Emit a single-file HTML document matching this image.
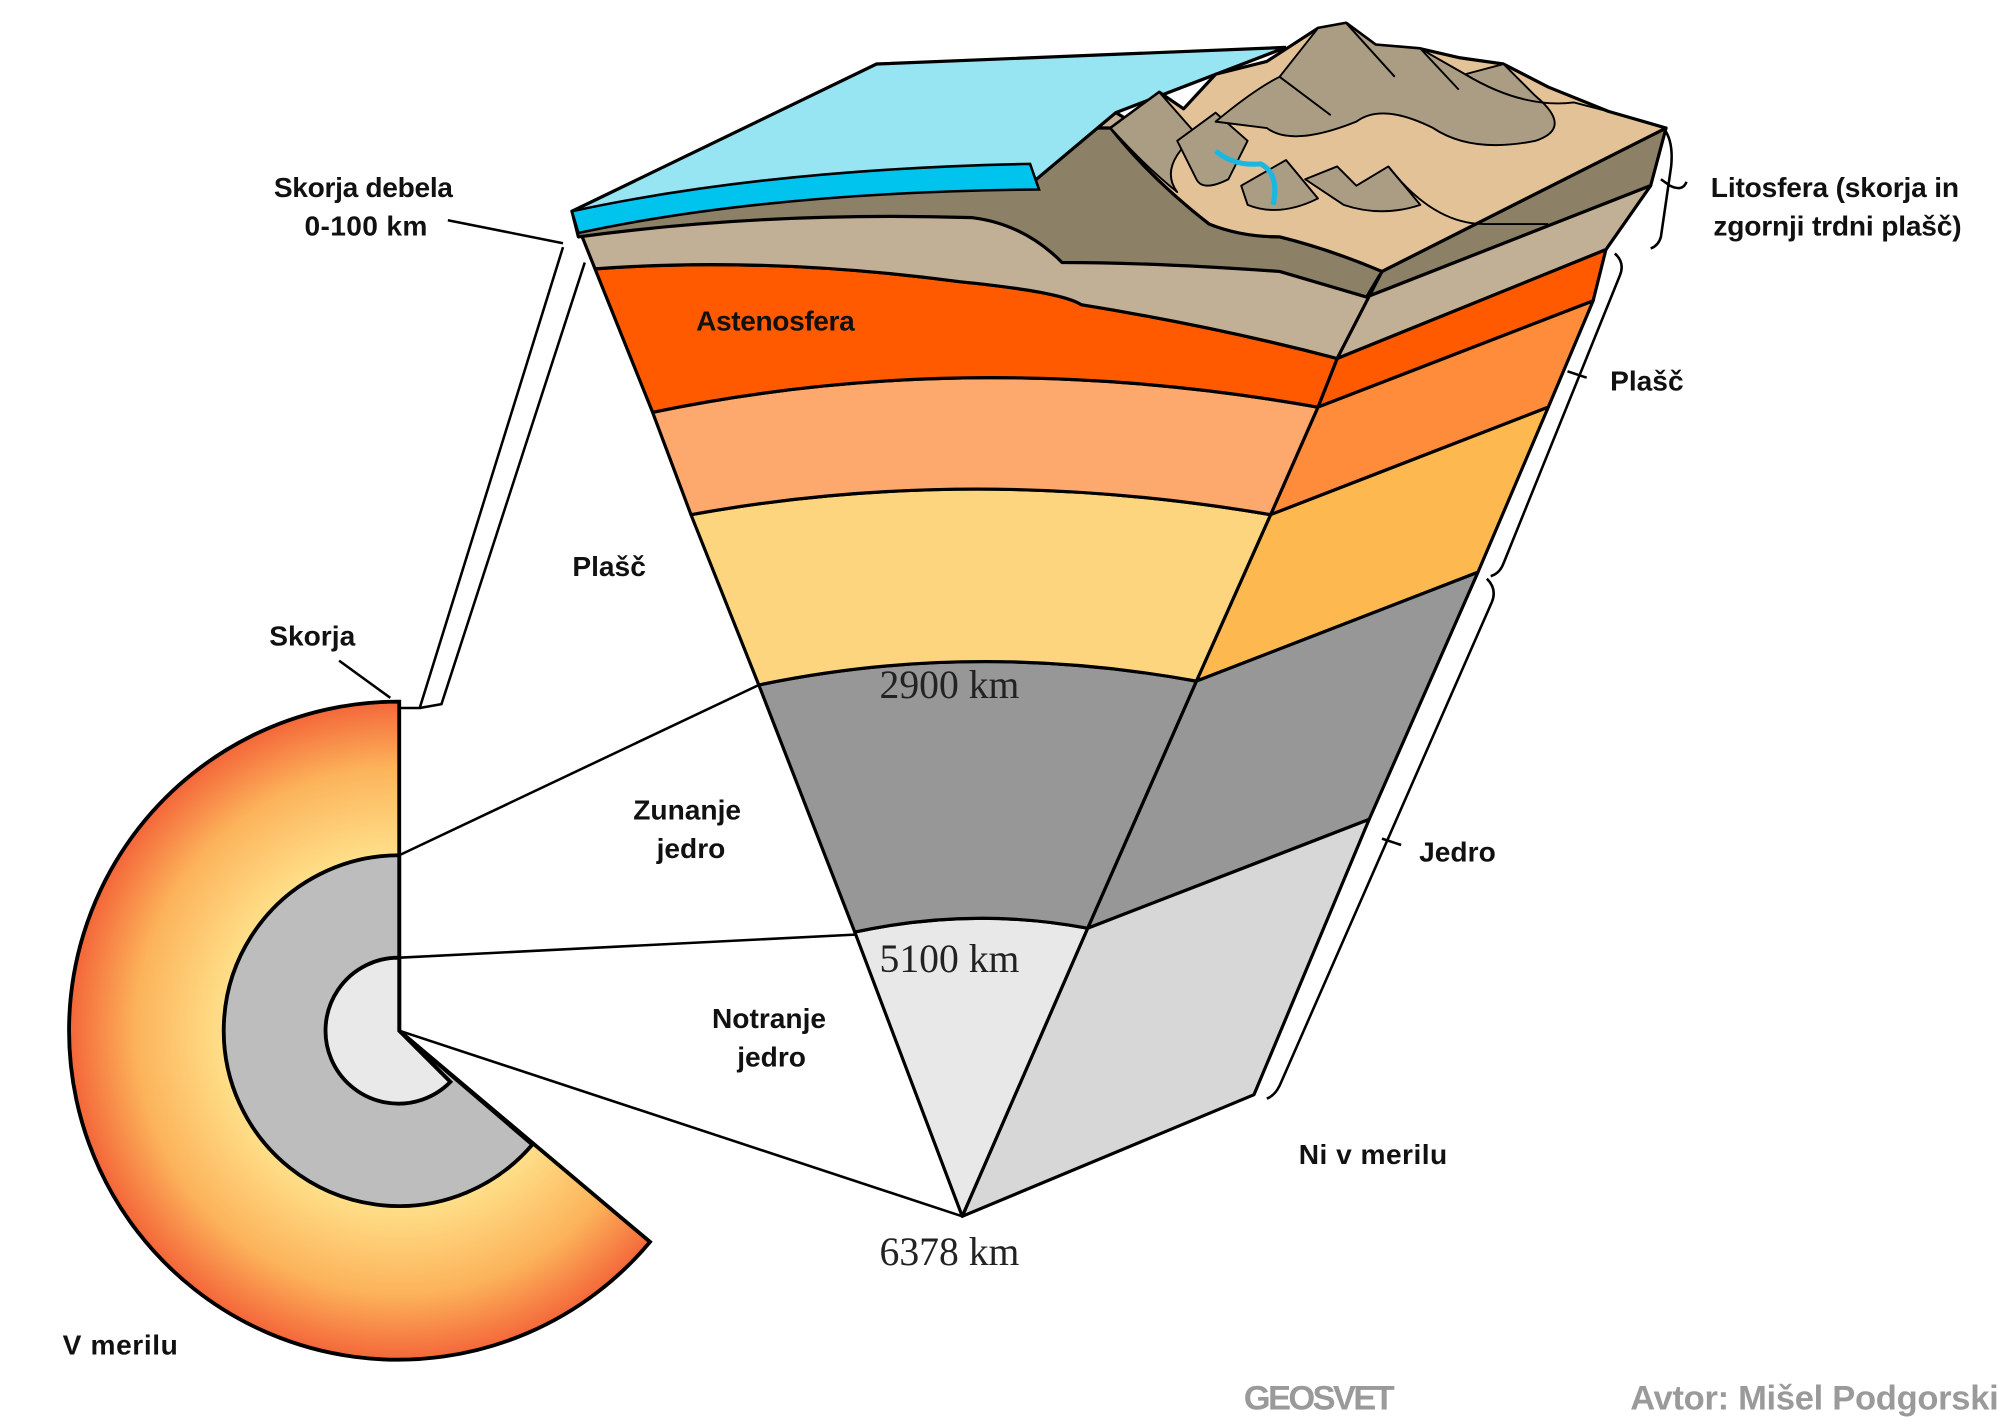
<!DOCTYPE html>
<html><head><meta charset="utf-8"><style>
html,body{margin:0;padding:0;background:#fff;}
svg{display:block;}
.l{font-family:"Liberation Sans",sans-serif;font-weight:bold;font-size:22px;fill:#111;}
.s{font-family:"Liberation Serif",serif;font-size:31px;fill:#222;}
.g{font-family:"Liberation Sans",sans-serif;font-weight:bold;font-size:27px;fill:#9a9a9a;}
</style></head><body>
<svg width="2000" height="1425" viewBox="0 0 1563 1113" preserveAspectRatio="none" xmlns="http://www.w3.org/2000/svg">
<defs>
<radialGradient id="rg" cx="312" cy="805" r="257" gradientUnits="userSpaceOnUse">
<stop offset="0.5" stop-color="#ffe58f"/><stop offset="0.8" stop-color="#fcb35a"/><stop offset="1" stop-color="#f4673a"/>
</radialGradient>
</defs>
<path d="M312,805 L312,548 A257,257 0 1 0 508,970 Z" fill="url(#rg)" stroke="#000" stroke-width="3"/>
<path d="M312,805 L312,668 A137,137 0 1 0 416,894 Z" fill="#bdbdbd" stroke="#000" stroke-width="3"/>
<path d="M312,805 L312,748 A57,57 0 1 0 352,845 Z" fill="#e9e9e9" stroke="#000" stroke-width="3"/>
<g stroke="#000" stroke-width="2" fill="none">
<path d="M312,553 L328,553 L440,193"/>
<path d="M328,553 L345,550 L457,205"/>
<path d="M312,668 L593,535"/>
<path d="M312,748 L668,730"/>
<path d="M312,805 L752,950"/>
<path d="M350,172 L440,190"/>
<path d="M265,516 L305,545"/>
</g>
<g stroke="#000" stroke-width="2.5" stroke-linejoin="round">
<polygon points="1080,212 1302,100 1290,145 1068,232" fill="#8c8066"/>
<polygon points="1068,232 1290,145 1255,195 1045,280" fill="#c2b096"/>
<polygon points="1045,280 1255,195 1245,235 1030,318" fill="#ff5a00"/>
<polygon points="1030,318 1245,235 1210,318 993,402" fill="#ff8c3a"/>
<polygon points="993,402 1210,318 1155,447 935,532" fill="#fdb950"/>
<polygon points="935,532 1155,447 1070,640 850,725" fill="#979797"/>
<polygon points="850,725 1070,640 980,855 752,950" fill="#d7d7d7"/>
</g>
<g stroke="#000" stroke-width="2.5" stroke-linejoin="round">
<path d="M668,728 Q760,708 850,725 L752,950 Z" fill="#e8e8e8"/>
<path d="M593,535 Q760,500 935,532 L850,725 Q760,708 668,728 Z" fill="#979797"/>
<path d="M540,402 Q760,362 993,402 L935,532 Q760,500 593,535 Z" fill="#fed57f"/>
<path d="M510,322 Q760,270 1030,318 L993,402 Q760,362 540,402 Z" fill="#fda86c"/>
<path d="M465,210 Q600,200 750,220 Q830,228 845,238 Q950,255 1045,280 L1030,318 Q760,270 510,322 Z" fill="#ff5a00"/>
<path d="M447,165 Q600,140 810,140 L845,100 L872,88 L1080,212 L1045,280 Q950,255 845,238 Q830,228 750,220 Q600,200 465,210 Z" fill="#c2b096"/>
<path d="M452,185 Q600,165 760,170 Q800,175 830,205 Q900,205 1000,212 L1068,232 L1080,212 Q1040,195 1000,185 Q970,185 945,175 Q900,140 868,100 L845,100 L810,140 Q600,140 447,165 Z" fill="#8c8066"/>
</g>
<polygon points="447,165 685,50 1005,37 872,88 810,140 Q600,140 447,165" fill="#97e4f3" stroke="#000" stroke-width="2.5"/>
<path d="M447,165 Q600,132 805,128 L812,148 Q600,150 452,182 Z" fill="#00c4ee" stroke="#000" stroke-width="2"/>
<!-- land -->
<path d="M868,100 L906,72 L925,85 L950,58 L990,48 L1030,22 L1052,18 L1075,35 L1110,38 L1140,45 L1175,50 L1210,68 L1257,87 L1302,100 L1080,212 Q1040,195 1000,185 Q970,185 945,175 Q900,140 868,100 Z" fill="#e3c298" stroke="#000" stroke-width="2.5" stroke-linejoin="round"/>
<g fill="#ab9d83" stroke="#000" stroke-width="1.5" stroke-linejoin="round">
<path d="M868,100 L906,72 L935,105 Q905,130 920,150 Q895,130 868,100 Z"/>
<path d="M920,110 L950,88 L975,110 L960,140 Q940,150 935,140 Z"/>
<path d="M950,95 Q980,70 1000,60 L1030,22 L1052,18 L1075,35 L1110,38 L1145,58 L1175,50 L1200,75 Q1230,100 1200,110 Q1150,120 1120,100 Q1080,80 1060,95 Q1010,115 990,100 Z"/>
<path d="M970,145 L1005,125 L1030,155 Q1000,170 975,160 Z"/>
<path d="M1020,140 L1045,130 L1060,145 L1085,130 L1110,160 Q1080,170 1050,160 Z"/>
</g>
<g stroke="#000" stroke-width="1.5" fill="none">
<path d="M1000,60 L1040,90"/><path d="M1052,18 L1090,60"/><path d="M1110,38 L1140,70"/>
<path d="M1085,130 Q1120,175 1160,175 Q1200,175 1210,175"/>
<path d="M1145,58 Q1190,85 1230,80 L1257,87"/>
</g>
<path d="M950,118 Q965,130 985,128 Q1000,135 995,160" stroke="#1ab8e0" stroke-width="4" fill="none"/>
<g stroke="#000" stroke-width="2" fill="none">
<path d="M1300,100 Q1308,110 1306,130 L1298,185 Q1296,192 1290,194"/>
<path d="M1298,140 L1305,145 Q1315,150 1318,142"/>
<path d="M1262,198 Q1270,205 1266,215 L1175,440 Q1172,448 1165,450"/>
<path d="M1225,290 L1240,295"/>
<path d="M1162,452 Q1170,460 1166,470 L1000,848 Q996,856 990,858"/>
<path d="M1080,655 L1095,660"/>
</g>
<text class="l" x="284" y="154" text-anchor="middle" textLength="140">Skorja debela</text>
<text class="l" x="286" y="184" text-anchor="middle" textLength="96">0-100 km</text>
<text class="l" x="606" y="258" text-anchor="middle" textLength="124">Astenosfera</text>
<text class="l" x="476" y="450" text-anchor="middle">Plašč</text>
<text class="l" x="244" y="504" text-anchor="middle">Skorja</text>
<text class="l" x="537" y="640" text-anchor="middle">Zunanje</text>
<text class="l" x="540" y="670" text-anchor="middle">jedro</text>
<text class="l" x="601" y="803" text-anchor="middle">Notranje</text>
<text class="l" x="603" y="833" text-anchor="middle">jedro</text>
<text class="l" x="1434" y="154" text-anchor="middle" textLength="194">Litosfera (skorja in</text>
<text class="l" x="1436" y="184" text-anchor="middle" textLength="194">zgornji trdni plašč)</text>
<text class="l" x="1287" y="305" text-anchor="middle">Plašč</text>
<text class="l" x="1139" y="673" text-anchor="middle">Jedro</text>
<text class="l" x="1073" y="909" text-anchor="middle" textLength="116">Ni v merilu</text>
<text class="l" x="94" y="1058" text-anchor="middle" textLength="90">V merilu</text>
<text class="s" x="742" y="545" text-anchor="middle">2900 km</text>
<text class="s" x="742" y="759" text-anchor="middle">5100 km</text>
<text class="s" x="742" y="988" text-anchor="middle">6378 km</text>
<text class="g" x="1031" y="1101" text-anchor="middle" textLength="118">GEOSVET</text>
<text class="g" x="1418" y="1101" text-anchor="middle" textLength="288">Avtor: Mišel Podgorski</text>
</svg>
</body></html>
